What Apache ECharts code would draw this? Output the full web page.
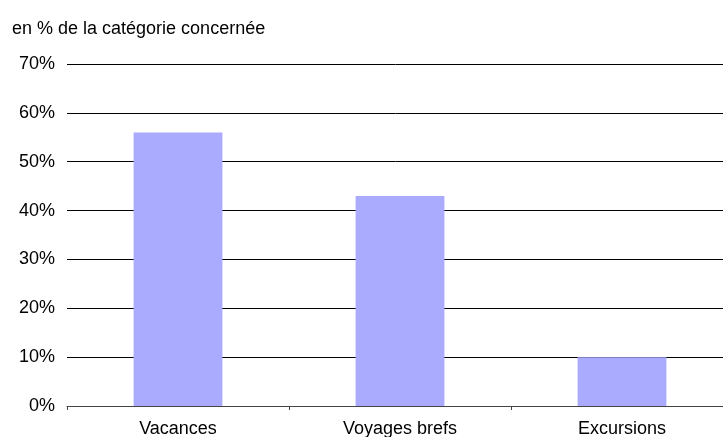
<!DOCTYPE html>
<html>
<head>
<meta charset="utf-8">
<script src="https://cdn.jsdelivr.net/npm/echarts@6/dist/echarts.min.js"></script>
<style>
  html, body { margin: 0; padding: 0; background: #fff; }
  #chart { width: 723px; height: 437px; }
</style>
</head>
<body>
<div id="chart"></div>
<script>
const categories = ['Vacances', 'Voyages brefs', 'Excursions']
const shares = [56, 43, 10]
const yTicks = [0, 10, 20, 30, 40, 50, 60, 70]

const chart = echarts.init(document.getElementById('chart'))
const font = '"Liberation Sans", Arial, sans-serif'

chart.setOption({
  animation: false,
  title: {
    text: 'en % de la catégorie concernée',
    left: 7,
    top: 15,
    textStyle: { fontFamily: font, fontSize: 18, fontWeight: 'normal', color: '#000' }
  },
  // the category axis runs a little past the right edge of the picture
  grid: { left: 67, right: -10, top: 64, bottom: 31, outerBoundsMode: 'none', containLabel: false },
  xAxis: {
    type: 'category',
    data: categories,
    axisLine: { lineStyle: { color: '#444', width: 1 } },
    axisTick: { show: true, length: 4, inside: false, lineStyle: { color: '#444' } },
    axisLabel: { fontFamily: font, fontSize: 18, color: '#000', margin: 14 }
  },
  yAxis: {
    type: 'value',
    min: yTicks[0],
    max: yTicks[yTicks.length - 1],
    interval: 10,
    axisLine: { show: false },
    axisTick: { show: false },
    axisLabel: { fontFamily: font, fontSize: 18, color: '#000', margin: 12, formatter: '{value}%' },
    splitLine: { lineStyle: { color: '#000', width: 1 } }
  },
  series: [
    {
      type: 'bar',
      data: shares,
      barWidth: '40%',
      itemStyle: { color: '#aaaaff' }
    }
  ]
})
</script>
</body>
</html>
